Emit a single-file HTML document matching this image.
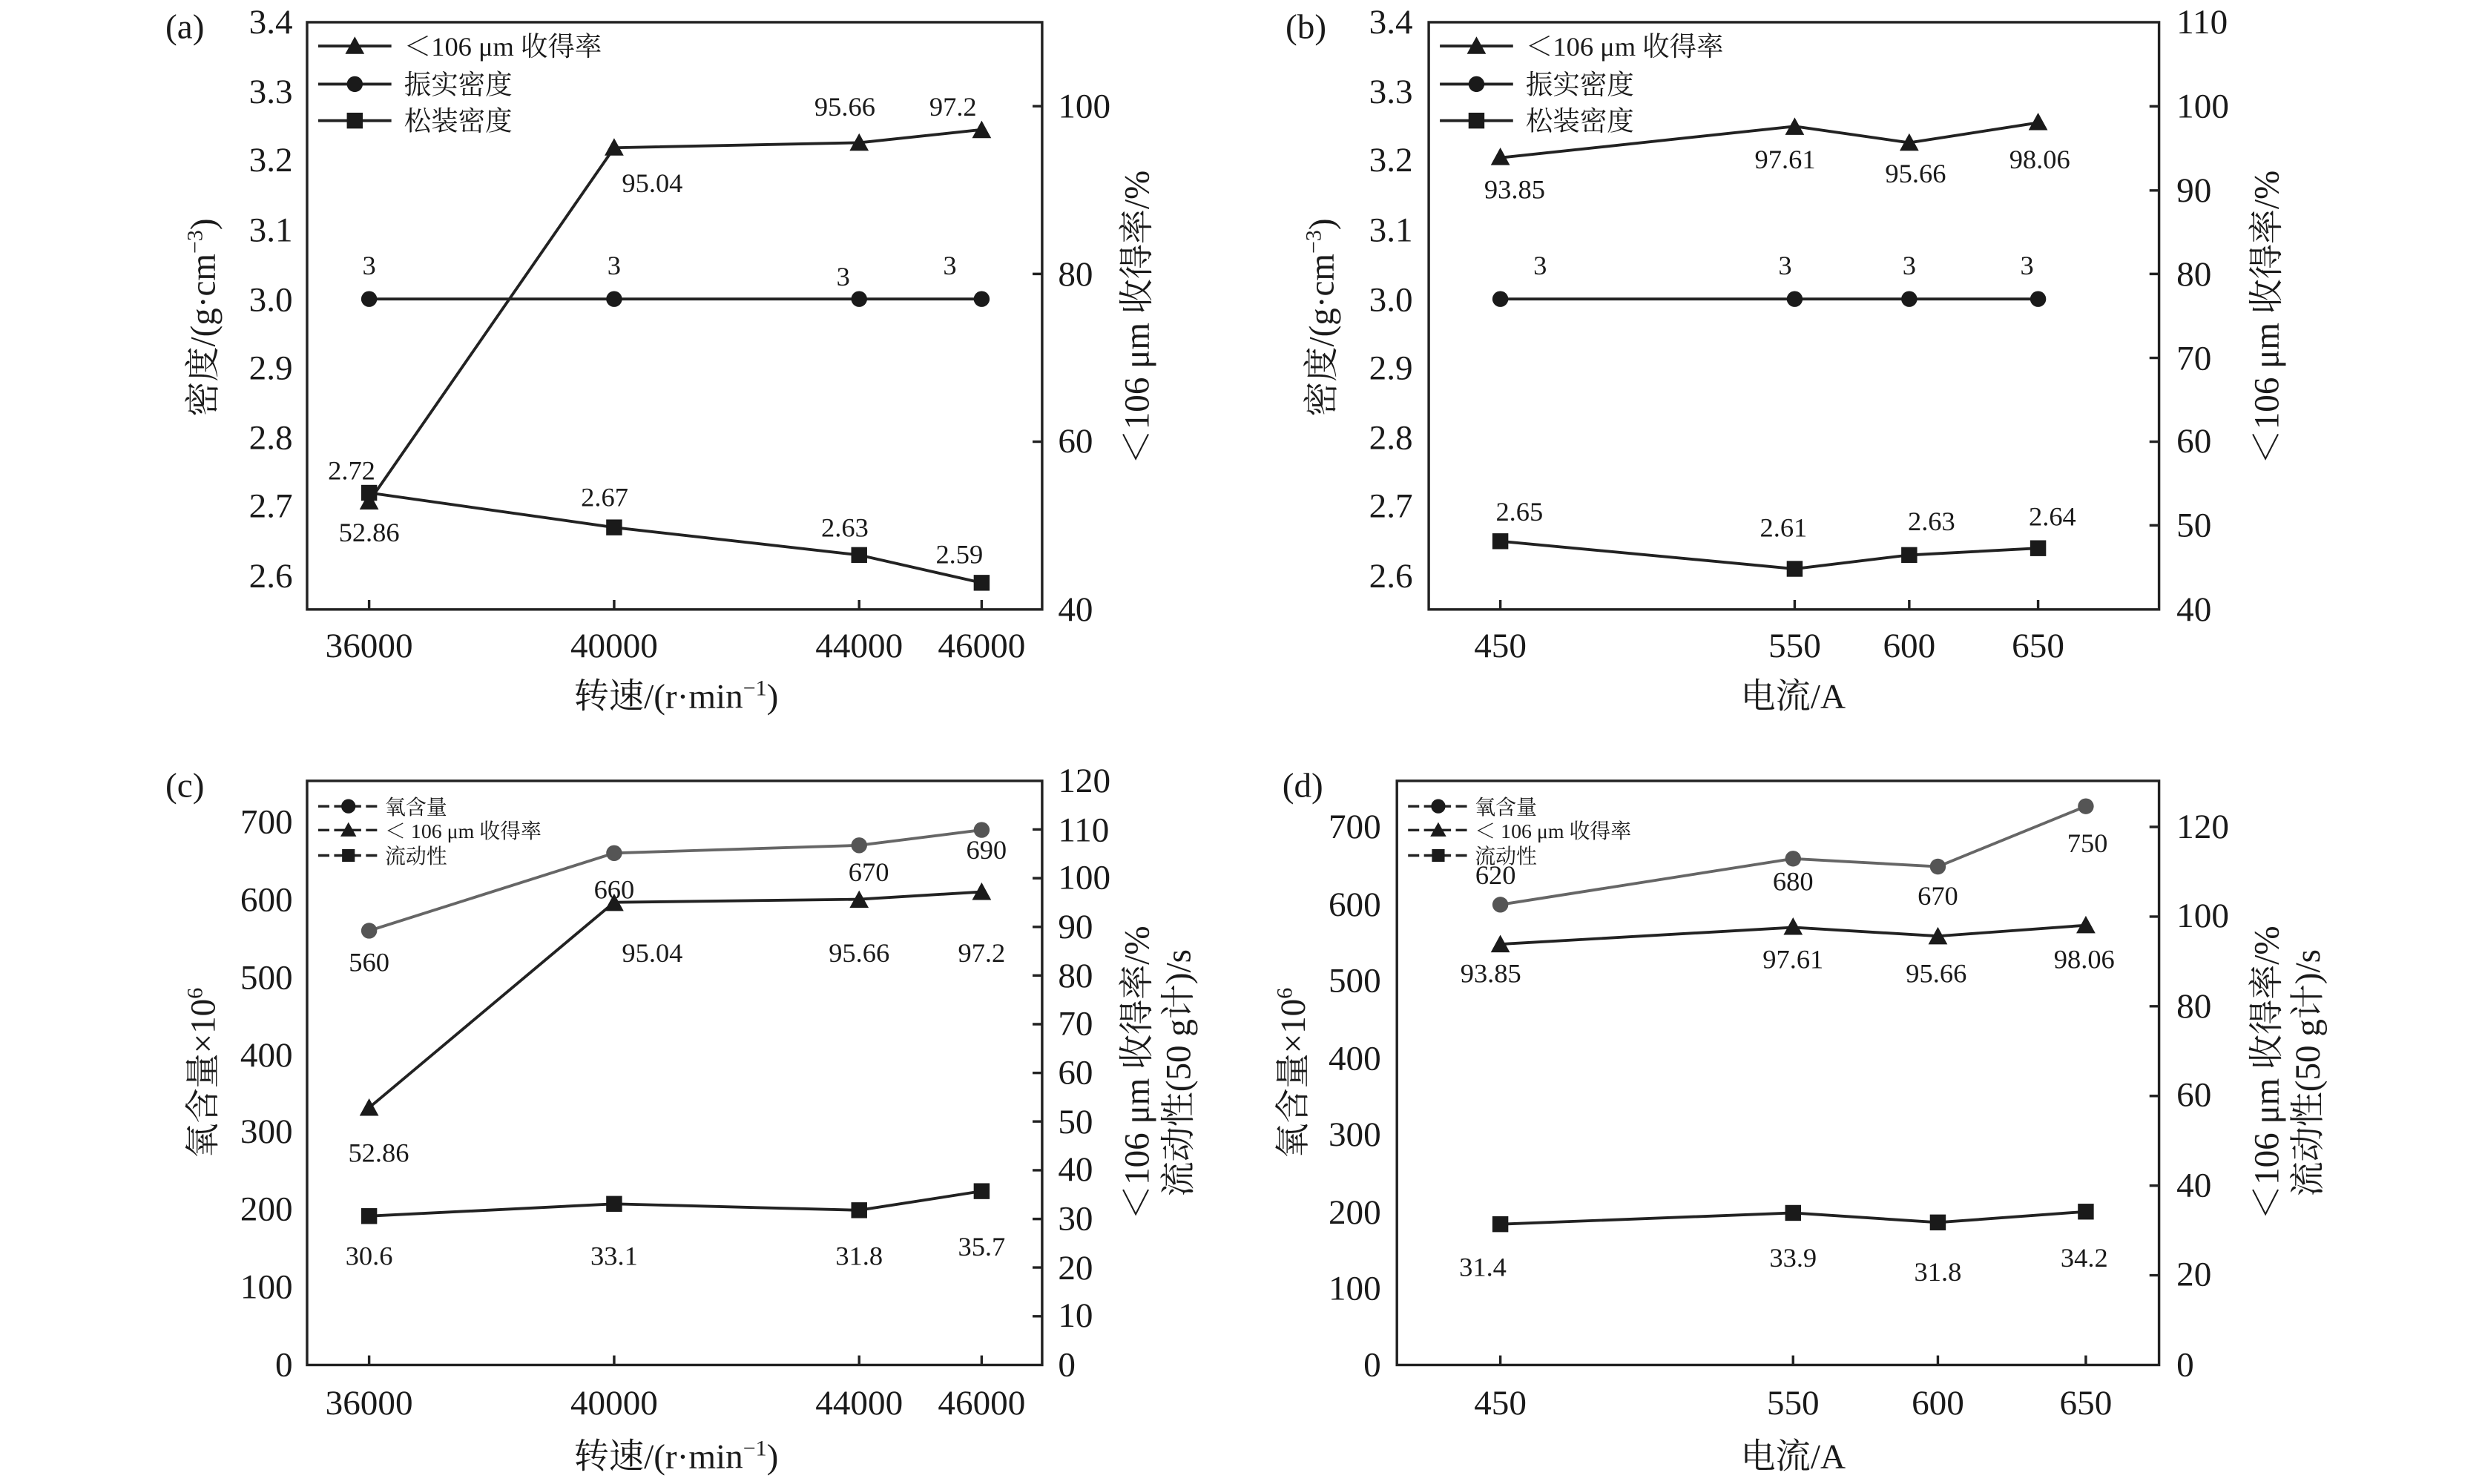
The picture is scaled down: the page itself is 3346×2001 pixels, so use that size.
<!DOCTYPE html>
<html><head><meta charset="utf-8"><style>
html,body{margin:0;padding:0;background:#fff;}
svg{display:block;}
text{font-family:"Liberation Serif","Noto Serif CJK SC","Noto Sans CJK SC",serif;fill:#1a1a1a;}
.t{font-size:22px;}
.d{font-size:17px;text-anchor:middle;}
.lg{font-size:17px;}
.ls{font-size:13px;}
.ax{font-size:22px;}
</style></head><body>
<svg width="3346" height="2001" viewBox="0 0 1560 935" preserveAspectRatio="none" xmlns="http://www.w3.org/2000/svg">
<g stroke="#222" stroke-width="1.6" fill="none">
<rect x="193" y="14" width="462" height="370"/>
<rect x="898" y="14" width="459" height="370"/>
<rect x="193" y="492" width="462" height="368"/>
<rect x="878" y="492" width="479" height="368"/>
<path d="M232 384v-6M386 384v-6M540 384v-6M617 384v-6M655 66.9h-6M655 172.6h-6M655 278.3h-6"/>
<path d="M943 384v-6M1128 384v-6M1200 384v-6M1281 384v-6M1357 67h-6M1357 120h-6M1357 172.6h-6M1357 225.5h-6M1357 278.3h-6M1357 331h-6"/>
<path d="M232 860v-6M386 860v-6M540 860v-6M617 860v-6M655 522.6h-6M655 553.3h-6M655 584h-6M655 614.6h-6M655 645.3h-6M655 676h-6M655 706.6h-6M655 737.3h-6M655 768h-6M655 798.6h-6M655 829.3h-6"/>
<path d="M943 860v-6M1127 860v-6M1218 860v-6M1311 860v-6M1357 521h-6M1357 577.5h-6M1357 634h-6M1357 690.5h-6M1357 747h-6M1357 803.5h-6"/>
</g>
<g stroke="#222" stroke-width="1.8" fill="none">
<polyline points="232,316 386,93.1 540,89.9 617,81.7"/>
<polyline points="232,188.4 386,188.4 540,188.4 617,188.4"/>
<polyline points="232,310.5 386,332.3 540,349.7 617,367.2"/>
<polyline points="943,99.4 1128,79.6 1200,89.9 1281,77.3"/>
<polyline points="943,188.4 1128,188.4 1200,188.4 1281,188.4"/>
<polyline points="943,341 1128,358.4 1200,349.7 1281,345.4"/>
<polyline points="232,697.9 386,568.5 540,566.6 617,561.9"/>
<polyline points="232,766.2 386,758.5 540,762.5 617,750.5"/>
<polyline points="943,594.9 1127,584.3 1218,589.8 1311,583"/>
<polyline points="943,771.3 1127,764.2 1218,770.2 1311,763.4"/>
</g>
<g stroke="#666" stroke-width="1.8" fill="none">
<polyline points="232,586.4 386,537.5 540,532.6 617,522.9"/>
<polyline points="943,570 1127,541 1218,546 1311,508"/>
</g>
<g fill="#1a1a1a">
<path d="M232 310l-6 11h12zM386 87l-6 11h12zM540 84l-6 11h12zM617 76l-6 11h12z"/>
<path d="M943 93l-6 11h12zM1128 74l-6 11h12zM1200 84l-6 11h12zM1281 71l-6 11h12z"/>
<path d="M232 692l-6 11h12zM386 563l-6 11h12zM540 561l-6 11h12zM617 556l-6 11h12z"/>
<path d="M943 589l-6 11h12zM1127 578l-6 11h12zM1218 584l-6 11h12zM1311 577l-6 11h12z"/>
<circle cx="232" cy="188.4" r="5"/><circle cx="386" cy="188.4" r="5"/><circle cx="540" cy="188.4" r="5"/><circle cx="617" cy="188.4" r="5"/>
<circle cx="943" cy="188.4" r="5"/><circle cx="1128" cy="188.4" r="5"/><circle cx="1200" cy="188.4" r="5"/><circle cx="1281" cy="188.4" r="5"/>
<rect x="227" y="305.5" width="10" height="10"/><rect x="381" y="327.3" width="10" height="10"/><rect x="535" y="344.7" width="10" height="10"/><rect x="612" y="362.2" width="10" height="10"/>
<rect x="938" y="336" width="10" height="10"/><rect x="1123" y="353.4" width="10" height="10"/><rect x="1195" y="344.7" width="10" height="10"/><rect x="1276" y="340.4" width="10" height="10"/>
<rect x="227" y="761.2" width="10" height="10"/><rect x="381" y="753.5" width="10" height="10"/><rect x="535" y="757.5" width="10" height="10"/><rect x="612" y="745.5" width="10" height="10"/>
<rect x="938" y="766.3" width="10" height="10"/><rect x="1122" y="759.2" width="10" height="10"/><rect x="1213" y="765.2" width="10" height="10"/><rect x="1306" y="758.4" width="10" height="10"/>
</g>
<g fill="#555">
<circle cx="232" cy="586.4" r="5"/><circle cx="386" cy="537.5" r="5"/><circle cx="540" cy="532.6" r="5"/><circle cx="617" cy="522.9" r="5"/>
<circle cx="943" cy="570" r="5"/><circle cx="1127" cy="541" r="5"/><circle cx="1218" cy="546" r="5"/><circle cx="1311" cy="508" r="5"/>
</g>
<g class="t" text-anchor="end">
<text x="184" y="21">3.4</text><text x="184" y="65">3.3</text><text x="184" y="108">3.2</text><text x="184" y="152">3.1</text><text x="184" y="196">3.0</text><text x="184" y="239">2.9</text><text x="184" y="283">2.8</text><text x="184" y="326">2.7</text><text x="184" y="370">2.6</text>
<text x="888" y="21">3.4</text><text x="888" y="65">3.3</text><text x="888" y="108">3.2</text><text x="888" y="152">3.1</text><text x="888" y="196">3.0</text><text x="888" y="239">2.9</text><text x="888" y="283">2.8</text><text x="888" y="326">2.7</text><text x="888" y="370">2.6</text>
<text x="184" y="525">700</text><text x="184" y="574">600</text><text x="184" y="623">500</text><text x="184" y="672">400</text><text x="184" y="720">300</text><text x="184" y="769">200</text><text x="184" y="818">100</text><text x="184" y="867">0</text>
<text x="868" y="528">700</text><text x="868" y="577">600</text><text x="868" y="625">500</text><text x="868" y="674">400</text><text x="868" y="722">300</text><text x="868" y="771">200</text><text x="868" y="819">100</text><text x="868" y="867">0</text>
</g>
<g class="t">
<text x="665" y="74">100</text><text x="665" y="180">80</text><text x="665" y="285">60</text><text x="665" y="391">40</text>
<text x="1368" y="21">110</text><text x="1368" y="74">100</text><text x="1368" y="127">90</text><text x="1368" y="180">80</text><text x="1368" y="233">70</text><text x="1368" y="285">60</text><text x="1368" y="338">50</text><text x="1368" y="391">40</text>
<text x="665" y="499">120</text><text x="665" y="530">110</text><text x="665" y="560">100</text><text x="665" y="591">90</text><text x="665" y="622">80</text><text x="665" y="652">70</text><text x="665" y="683">60</text><text x="665" y="714">50</text><text x="665" y="744">40</text><text x="665" y="775">30</text><text x="665" y="806">20</text><text x="665" y="836">10</text><text x="665" y="867">0</text>
<text x="1368" y="528">120</text><text x="1368" y="584">100</text><text x="1368" y="641">80</text><text x="1368" y="697">60</text><text x="1368" y="754">40</text><text x="1368" y="810">20</text><text x="1368" y="867">0</text>
</g>
<g class="t" text-anchor="middle">
<text x="232" y="414">36000</text><text x="386" y="414">40000</text><text x="540" y="414">44000</text><text x="617" y="414">46000</text>
<text x="943" y="414">450</text><text x="1128" y="414">550</text><text x="1200" y="414">600</text><text x="1281" y="414">650</text>
<text x="232" y="891">36000</text><text x="386" y="891">40000</text><text x="540" y="891">44000</text><text x="617" y="891">46000</text>
<text x="943" y="891">450</text><text x="1127" y="891">550</text><text x="1218" y="891">600</text><text x="1311" y="891">650</text>
</g>
<g class="d">
<text x="221" y="302">2.72</text><text x="232" y="341">52.86</text><text x="410" y="121">95.04</text><text x="531" y="73">95.66</text><text x="599" y="73">97.2</text>
<text x="232" y="173">3</text><text x="386" y="173">3</text><text x="530" y="180">3</text><text x="597" y="173">3</text>
<text x="380" y="319">2.67</text><text x="531" y="338">2.63</text><text x="603" y="355">2.59</text>
<text x="952" y="125">93.85</text><text x="1122" y="106">97.61</text><text x="1204" y="115">95.66</text><text x="1282" y="106">98.06</text>
<text x="968" y="173">3</text><text x="1122" y="173">3</text><text x="1200" y="173">3</text><text x="1274" y="173">3</text>
<text x="955" y="328">2.65</text><text x="1121" y="338">2.61</text><text x="1214" y="334">2.63</text><text x="1290" y="331">2.64</text>
<text x="232" y="612">560</text><text x="386" y="566">660</text><text x="546" y="555">670</text><text x="620" y="541">690</text>
<text x="238" y="732">52.86</text><text x="410" y="606">95.04</text><text x="540" y="606">95.66</text><text x="617" y="606">97.2</text>
<text x="232" y="797">30.6</text><text x="386" y="797">33.1</text><text x="540" y="797">31.8</text><text x="617" y="791">35.7</text>
<text x="940" y="557">620</text><text x="1127" y="561">680</text><text x="1218" y="570">670</text><text x="1312" y="537">750</text>
<text x="937" y="619">93.85</text><text x="1127" y="610">97.61</text><text x="1217" y="619">95.66</text><text x="1310" y="610">98.06</text>
<text x="932" y="804">31.4</text><text x="1127" y="798">33.9</text><text x="1218" y="807">31.8</text><text x="1310" y="798">34.2</text>
</g>
<g stroke="#222" stroke-width="1.8">
<path d="M200 29h46M200 53h46M200 76h46M905 29h46M905 53h46M905 76h46"/>
</g>
<g fill="#1a1a1a">
<path d="M223 23l-6 11h12zM928 23l-6 11h12z"/>
<circle cx="223" cy="53" r="5"/><circle cx="928" cy="53" r="5"/>
<rect x="218" y="71" width="10" height="10"/><rect x="923" y="71" width="10" height="10"/>
</g>
<g class="lg">
<text x="254" y="35">＜106 μm 收得率</text><text x="254" y="59">振实密度</text><text x="254" y="82">松装密度</text>
<text x="959" y="35">＜106 μm 收得率</text><text x="959" y="59">振实密度</text><text x="959" y="82">松装密度</text>
</g>
<g stroke="#222" stroke-width="1.6" stroke-dasharray="7,3">
<path d="M200 508h38M200 523h38M200 539h38M885 508h38M885 523h38M885 539h38"/>
</g>
<g fill="#1a1a1a">
<circle cx="219" cy="508" r="4.5"/><circle cx="904" cy="508" r="4.5"/>
<path d="M219 518l-5 9h10zM904 518l-5 9h10z"/>
<rect x="215" y="535" width="8" height="8"/><rect x="900" y="535" width="8" height="8"/>
</g>
<g class="ls">
<text x="242" y="513">氧含量</text><text x="242" y="528">＜ 106 μm 收得率</text><text x="242" y="544">流动性</text>
<text x="927" y="513">氧含量</text><text x="927" y="528">＜ 106 μm 收得率</text><text x="927" y="544">流动性</text>
</g>
<g class="ax">
<text x="104" y="24">(a)</text><text x="808" y="24">(b)</text><text x="104" y="502">(c)</text><text x="806" y="502">(d)</text>
</g>
<g class="ax" text-anchor="middle">
<text x="425" y="446">转速/(r·min<tspan dy="-8" font-size="14">−1</tspan><tspan dy="8">)</tspan></text>
<text x="1127" y="446">电流/A</text>
<text x="425" y="925">转速/(r·min<tspan dy="-8" font-size="14">−1</tspan><tspan dy="8">)</tspan></text>
<text x="1127" y="925">电流/A</text>
<text transform="translate(135,200) rotate(-90)">密度/(g·cm<tspan dy="-8" font-size="14">−3</tspan><tspan dy="8">)</tspan></text>
<text transform="translate(838,200) rotate(-90)">密度/(g·cm<tspan dy="-8" font-size="14">−3</tspan><tspan dy="8">)</tspan></text>
<text transform="translate(722,200) rotate(-90)">＜106 μm 收得率/%</text>
<text transform="translate(1432,200) rotate(-90)">＜106 μm 收得率/%</text>
<text transform="translate(135,676) rotate(-90)">氧含量×10<tspan dy="-8" font-size="14">6</tspan></text>
<text transform="translate(820,676) rotate(-90)">氧含量×10<tspan dy="-8" font-size="14">6</tspan></text>
<text transform="translate(722,676) rotate(-90)">＜106 μm 收得率/%</text>
<text transform="translate(748,676) rotate(-90)">流动性(50 g计)/s</text>
<text transform="translate(1432,676) rotate(-90)">＜106 μm 收得率/%</text>
<text transform="translate(1458,676) rotate(-90)">流动性(50 g计)/s</text>
</g>
</svg>
</body></html>
